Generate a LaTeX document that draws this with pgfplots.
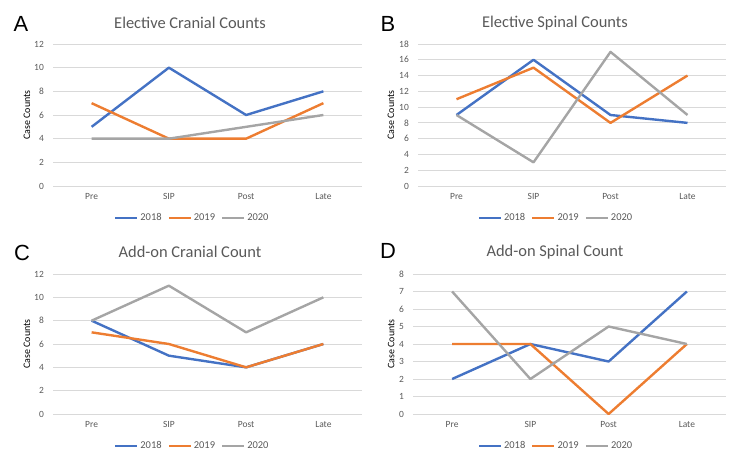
\documentclass[border=0pt]{standalone}
\usepackage{pgfplots}
\pgfplotsset{compat=1.18}
\usepackage{fontspec}
\setmainfont{Carlito}
\newfontfamily\letterfont{Liberation Sans}
\definecolor{c18}{HTML}{4472C4}
\definecolor{c19}{HTML}{ED7D31}
\definecolor{c20}{HTML}{A5A5A5}
\definecolor{gridc}{HTML}{D9D9D9}
\definecolor{txt}{HTML}{595959}
\pgfplotsset{excel/.style={
  scale only axis,
  xmin=-0.5, xmax=3.5, ymin=0,
  xtick={0,1,2,3}, xticklabels={Pre,SIP,Post,Late},
  axis line style={draw=none},
  major tick length=0pt,
  ymajorgrids,
  grid style={color=gridc, line width=1bp},
  tick label style={font=\fontsize{9.5}{10}\selectfont, text=txt},
  xticklabel style={inner sep=0pt, yshift=-7bp},
  yticklabel style={inner sep=0pt, xshift=-9bp},
  /pgf/number format/assume math mode=true,
  ylabel={Case Counts},
  ylabel style={font=\fontsize{11}{12}\selectfont, text=black!80},
  legend columns=3,
  legend style={draw=none, fill=none, font=\fontsize{10.5}{11}\selectfont, text=txt,
    anchor=center, inner sep=0pt,
    /tikz/every even column/.style={column sep=4bp}},
  legend image code/.code={\draw[#1, line width=2.25bp] (0bp,0bp)--(22bp,0bp);},
  every axis plot/.append style={line width=2.4bp, line join=round, mark=none},
}}
\begin{document}
\begin{tikzpicture}
\useasboundingbox (0,0) rectangle (738bp,-462bp);
% Panel A
\begin{axis}[excel, at={(53bp,-186bp)}, anchor=south west, width=309bp, height=142bp,
  ymax=12, ytick={0,2,...,12},
  every axis y label/.style={at={(axis description cs:-0.084,0.5)}, rotate=90, anchor=center},
  legend style={at={(axis description cs:0.451,-0.225)}}]
\addplot[c18] coordinates {(0,5) (1,10) (2,6) (3,8)};
\addplot[c19] coordinates {(0,7) (1,4) (2,4) (3,7)};
\addplot[c20] coordinates {(0,4) (1,4) (2,5) (3,6)};
\legend{2018,2019,2020}
\end{axis}
% Panel B
\begin{axis}[excel, at={(418bp,-186bp)}, anchor=south west, width=308bp, height=142bp,
  ymax=18, ytick={0,2,...,18},
  every axis y label/.style={at={(axis description cs:-0.088,0.5)}, rotate=90, anchor=center},
  legend style={at={(axis description cs:0.448,-0.225)}}]
\addplot[c18] coordinates {(0,9) (1,16) (2,9) (3,8)};
\addplot[c19] coordinates {(0,11) (1,15) (2,8) (3,14)};
\addplot[c20] coordinates {(0,9) (1,3) (2,17) (3,9)};
\legend{2018,2019,2020}
\end{axis}
% Panel C
\begin{axis}[excel, at={(53bp,-414bp)}, anchor=south west, width=309bp, height=140bp,
  ymax=12, ytick={0,2,...,12},
  every axis y label/.style={at={(axis description cs:-0.084,0.5)}, rotate=90, anchor=center},
  legend style={at={(axis description cs:0.451,-0.229)}}]
\addplot[c18] coordinates {(0,8) (1,5) (2,4) (3,6)};
\addplot[c19] coordinates {(0,7) (1,6) (2,4) (3,6)};
\addplot[c20] coordinates {(0,8) (1,11) (2,7) (3,10)};
\legend{2018,2019,2020}
\end{axis}
% Panel D
\begin{axis}[excel, at={(413bp,-414bp)}, anchor=south west, width=313bp, height=140bp,
  ymax=8, ytick={0,1,...,8},
  every axis y label/.style={at={(axis description cs:-0.070,0.5)}, rotate=90, anchor=center},
  legend style={at={(axis description cs:0.457,-0.229)}}]
\addplot[c18] coordinates {(0,2) (1,4) (2,3) (3,7)};
\addplot[c19] coordinates {(0,4) (1,4) (2,0) (3,4)};
\addplot[c20] coordinates {(0,7) (1,2) (2,5) (3,4)};
\legend{2018,2019,2020}
\end{axis}
% Titles and panel letters
\node[font=\fontsize{16.5}{18}\selectfont, text=txt] at (190bp,-23bp) {Elective Cranial Counts};
\node[font=\fontsize{16.5}{18}\selectfont, text=txt] at (555bp,-23bp) {Elective Spinal Counts};
\node[font=\fontsize{16.5}{18}\selectfont, text=txt] at (190bp,-252bp) {Add-on Cranial Count};
\node[font=\fontsize{16.5}{18}\selectfont, text=txt] at (555bp,-252bp) {Add-on Spinal Count};
\node[font=\letterfont\fontsize{22}{24}\selectfont] at (21bp,-24bp) {A};
\node[font=\letterfont\fontsize{22}{24}\selectfont] at (388bp,-24bp) {B};
\node[font=\letterfont\fontsize{22}{24}\selectfont] at (22bp,-253bp) {C};
\node[font=\letterfont\fontsize{22}{24}\selectfont] at (388bp,-251bp) {D};
\end{tikzpicture}
\end{document}
